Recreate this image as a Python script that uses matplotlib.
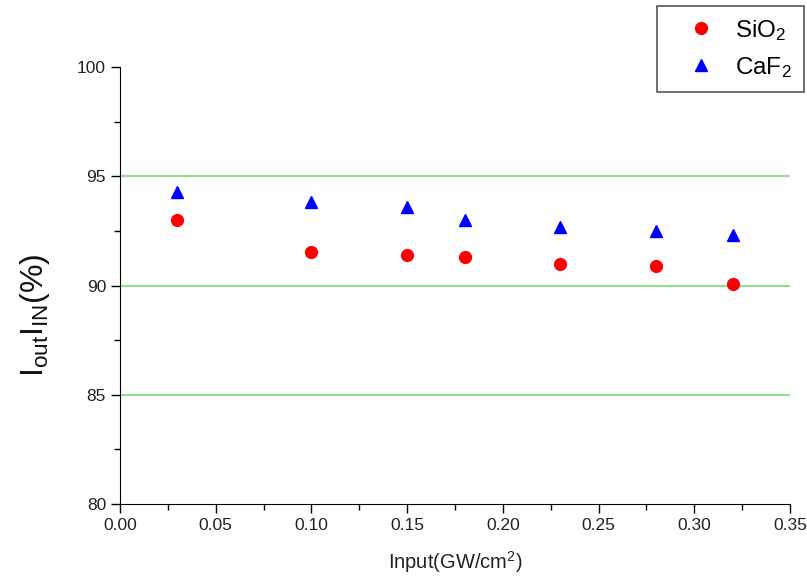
import matplotlib.pyplot as plt
from matplotlib.ticker import MultipleLocator

plt.rcParams['font.family'] = ['Liberation Sans', 'DejaVu Sans']
plt.rcParams['mathtext.fontset'] = 'custom'
plt.rcParams['mathtext.rm'] = 'Liberation Sans'
plt.rcParams['mathtext.it'] = 'Liberation Sans'

# data
power = [0.03, 0.10, 0.15, 0.18, 0.23, 0.28, 0.32]
sio2 = [93.0, 91.55, 91.4, 91.3, 91.0, 90.9, 90.07]
caf2 = [94.3, 93.8, 93.6, 93.0, 92.7, 92.5, 92.3]

fig = plt.figure(figsize=(8.07, 5.79), dpi=100)
ax = fig.add_axes([0.1487, 0.1295, 0.8303, 0.7548])

# green grid lines
for g in [85, 90, 95]:
    ax.axhline(g, color='#90e090', lw=1.5, zorder=0)

ax.plot(power, sio2, 'o', color='red', ms=8.5, label=r'SiO$_2$', linestyle='none')
ax.plot(power, caf2, '^', color='blue', ms=9, label=r'CaF$_2$', linestyle='none')

ax.set_xlim(0, 0.35)
ax.set_ylim(80, 100)
ax.xaxis.set_major_locator(MultipleLocator(0.05))
ax.xaxis.set_minor_locator(MultipleLocator(0.025))
ax.yaxis.set_major_locator(MultipleLocator(5))
ax.yaxis.set_minor_locator(MultipleLocator(2.5))
ax.xaxis.set_major_formatter(plt.FormatStrFormatter('%.2f'))

ax.spines['top'].set_visible(False)
ax.spines['right'].set_visible(False)
ax.tick_params(which='major', direction='out', length=6.5, width=1,
               labelsize=12.5, labelcolor='#222222')
ax.tick_params(which='minor', direction='out', length=4, width=1)

ax.set_xlabel(r'Input(GW/cm$^2$)', fontsize=14.5, labelpad=12, color='#222222')
ax.set_ylabel(r'I$_{\rm out}$I$_{\rm IN}$(%)', fontsize=23, color='#111111')
ax.yaxis.set_label_coords(-0.101, 0.432)

leg = fig.legend(loc='upper right', bbox_to_anchor=(0.996, 0.99), fontsize=17.5,
                 fancybox=False, edgecolor='#555555', framealpha=1,
                 handlelength=2.6, handletextpad=0.1, borderpad=0.5,
                 labelspacing=0.5, borderaxespad=0)
leg.get_frame().set_linewidth(1.2)

plt.savefig('out.png', dpi=100)
